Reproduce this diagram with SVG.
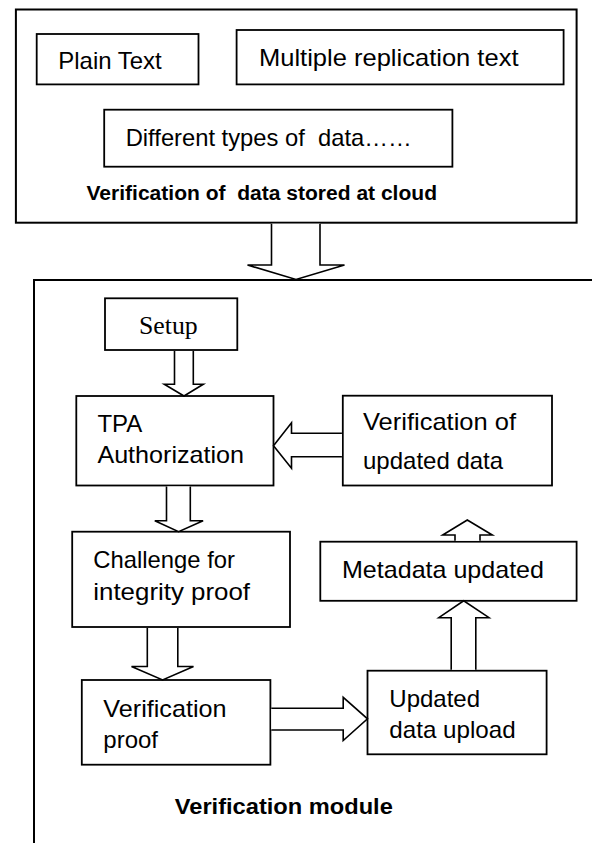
<svg xmlns="http://www.w3.org/2000/svg" width="592" height="843" viewBox="0 0 592 843">
  <style>
    .frame { fill: #fff; stroke: #000; stroke-width: 2; }
    .box { fill: #fff; stroke: #000; stroke-width: 1.8; }
    .arrow { fill: #fff; stroke: #000; stroke-width: 1.6; stroke-linejoin: miter; }
    .lbl { font-family: "Liberation Sans", Arial, sans-serif; font-size: 24px; fill: #000; }
    .serif { font-family: "Liberation Serif", "Times New Roman", serif; font-size: 26px; fill: #000; }
    .title { font-family: "Liberation Sans", Arial, sans-serif; font-weight: bold; fill: #000; }
    .keep { white-space: pre; }
  </style>
  <rect width="592" height="843" fill="#fff"/>

  <!-- upper panel: kinds of data held in the cloud -->
  <g id="cloud-data">
    <rect class="frame" x="15.9" y="9.5" width="560.7" height="213.2"/>
    <text class="title keep" xml:space="preserve" x="86.5" y="200" font-size="19.5" textLength="350.5" lengthAdjust="spacingAndGlyphs">Verification of  data stored at cloud</text>
  </g>
  <g id="plain-text">
    <rect class="box" x="36.7" y="34" width="161.8" height="50.4"/>
    <text class="lbl" x="58.3" y="69" textLength="103.4" lengthAdjust="spacingAndGlyphs">Plain Text</text>
  </g>
  <g id="replication-text">
    <rect class="box" x="236.6" y="30" width="327" height="54.4"/>
    <text class="lbl" x="259" y="65.5" textLength="259.5" lengthAdjust="spacingAndGlyphs">Multiple replication text</text>
  </g>
  <g id="data-types">
    <rect class="box" x="104.2" y="109.7" width="348.2" height="57"/>
    <text class="lbl keep" xml:space="preserve" x="125.7" y="145.7" textLength="286" lengthAdjust="spacingAndGlyphs">Different types of  data……</text>
  </g>

  <!-- lower panel: the verification module (runs off the right and bottom edges) -->
  <g id="verification-module">
    <path d="M 600 280 H 34 V 850" fill="none" stroke="#000" stroke-width="2"/>
    <text class="title" x="174.8" y="814" font-size="21.5" textLength="218" lengthAdjust="spacingAndGlyphs">Verification module</text>
  </g>
  <g id="setup">
    <rect class="box" x="105" y="298.3" width="132.3" height="51.7"/>
    <text class="serif" x="139" y="334.3" textLength="58.7" lengthAdjust="spacingAndGlyphs">Setup</text>
  </g>
  <g id="tpa-authorization">
    <rect class="box" x="76.3" y="396" width="197.2" height="89.5"/>
    <text class="lbl" x="97.4" y="431.7">TPA</text>
    <text class="lbl" x="97.4" y="463.3" textLength="146.6" lengthAdjust="spacingAndGlyphs">Authorization</text>
  </g>
  <g id="verify-updated">
    <rect class="box" x="342.8" y="395.7" width="209.2" height="89.8"/>
    <text class="lbl" x="363" y="429.5" textLength="153" lengthAdjust="spacingAndGlyphs">Verification of</text>
    <text class="lbl" x="363" y="468.5">updated data</text>
  </g>
  <g id="challenge">
    <rect class="box" x="72.2" y="531.7" width="217.8" height="95.3"/>
    <text class="lbl" x="93.3" y="567.7" textLength="141.7" lengthAdjust="spacingAndGlyphs">Challenge for</text>
    <text class="lbl" x="93.3" y="600" textLength="156.7" lengthAdjust="spacingAndGlyphs">integrity proof</text>
  </g>
  <g id="metadata-updated">
    <rect class="box" x="320.3" y="541.7" width="256.3" height="59.1"/>
    <text class="lbl" x="342" y="578" textLength="202" lengthAdjust="spacingAndGlyphs">Metadata updated</text>
  </g>
  <g id="verification-proof">
    <rect class="box" x="81.8" y="680" width="188.6" height="84.7"/>
    <text class="lbl" x="103.3" y="717.3" textLength="123.3" lengthAdjust="spacingAndGlyphs">Verification</text>
    <text class="lbl" x="103.3" y="748.3">proof</text>
  </g>
  <g id="data-upload">
    <rect class="box" x="367.5" y="670.7" width="179.1" height="83.6"/>
    <text class="lbl" x="389.3" y="706.7">Updated</text>
    <text class="lbl" x="389.3" y="738.3" textLength="126.4" lengthAdjust="spacingAndGlyphs">data upload</text>
  </g>

  <!-- block arrows -->
  <g id="connectors">
    <path class="arrow" d="M 271.5 223.7 V 265 H 247.5 L 296 279.5 L 344.5 265 H 320 V 223.7"/>
    <path class="arrow" d="M 174.5 351 V 384.3 H 164.3 L 184 396 L 203.3 384.3 H 193.3 V 351"/>
    <path class="arrow" d="M 341.9 433.3 H 291.5 V 422.7 L 273.5 445.7 L 291.5 468.3 V 456.7 H 341.9"/>
    <path class="arrow" d="M 166.5 486.5 V 520.7 H 154.8 L 178.6 531.7 L 203.1 520.7 H 190.3 V 486.5"/>
    <path class="arrow" d="M 455 540.8 V 535 H 442.7 L 467.3 520 L 492.3 535 H 480 V 540.8"/>
    <path class="arrow" d="M 147.3 628 V 666.5 H 131.5 L 162.6 680 L 193.5 666.5 H 177.8 V 628"/>
    <path class="arrow" d="M 271.3 708.3 H 343.2 V 697.3 L 367.5 718.8 L 343.2 740.5 V 730 H 271.3"/>
    <path class="arrow" d="M 451.2 669.8 V 617.7 H 438.8 L 463.7 600.8 L 489 617.7 H 475.8 V 669.8"/>
  </g>
</svg>
